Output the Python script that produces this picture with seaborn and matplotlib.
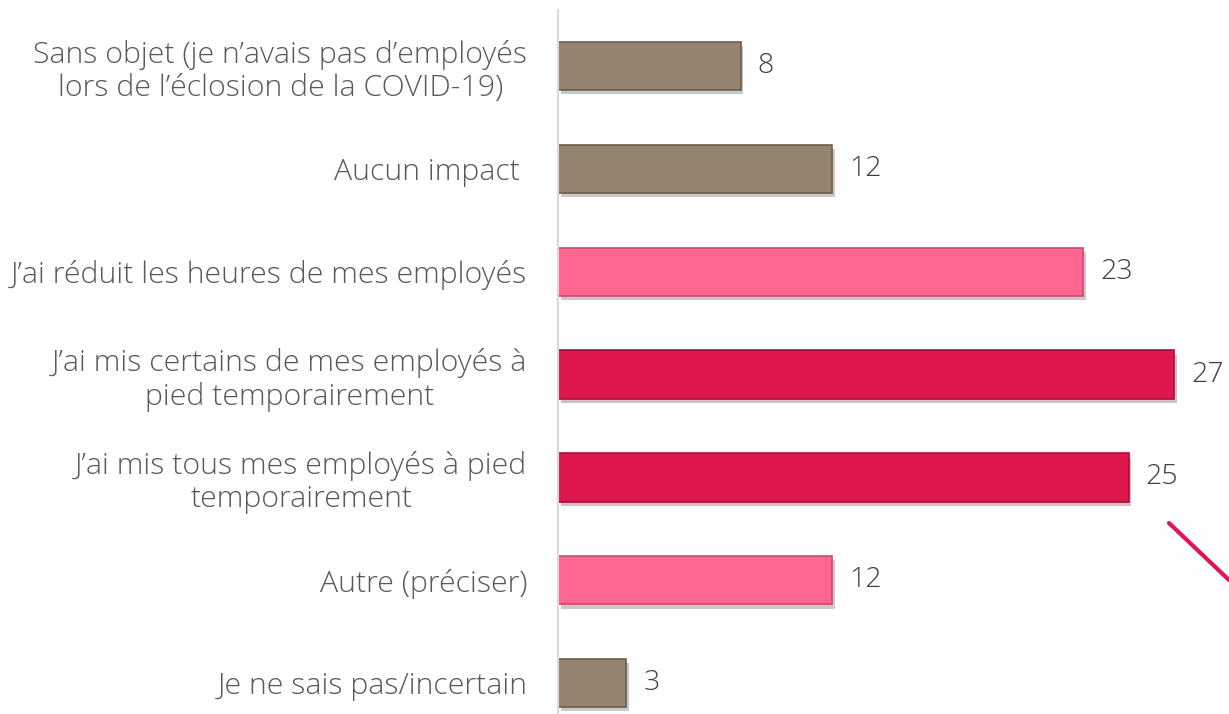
import matplotlib
matplotlib.use("Agg")
import matplotlib.pyplot as plt
import matplotlib.patheffects as pe
import seaborn as sns
import pandas as pd

categories = [
    "Sans objet (je n\u2019avais pas d\u2019employés\nlors de l\u2019éclosion de la COVID-19)",
    "Aucun impact ",
    "J\u2019ai réduit les heures de mes employés",
    "J\u2019ai mis certains de mes employés à\npied temporairement",
    "J\u2019ai mis tous mes employés à pied\ntemporairement",
    "Autre (préciser)",
    "Je ne sais pas/incertain",
]
values = [8, 12, 23, 27, 25, 12, 3]
colors = ["#94836f", "#94836f", "#ff6691", "#e0174e", "#e0174e", "#ff6691", "#94836f"]
edge_colors = ["#6b5d4e", "#6b5d4e", "#c94a6e", "#a80f3a", "#a80f3a", "#c94a6e", "#6b5d4e"]

sns.set_theme(style="white")
plt.rcParams["font.family"] = ["Open Sans", "DejaVu Sans"]

df = pd.DataFrame({"cat": categories, "val": values})

fig = plt.figure(figsize=(12.29, 7.14), dpi=100)
ax = fig.add_axes([558 / 1229, 0.0, 1 - 558 / 1229, 1 - 10 / 714])

sns.barplot(data=df, y="cat", x="val", hue="cat", palette=colors, legend=False,
            orient="h", width=0.47, ax=ax, saturation=1)

for patch, ec in zip(ax.patches, edge_colors):
    patch.set_edgecolor(ec)
    patch.set_linewidth(1.2)
    patch.set_path_effects([pe.SimplePatchShadow(offset=(2, -3), alpha=0.25), pe.Normal()])

for i, v in enumerate(values):
    ax.text(v + 0.75, i, str(v), va="center", ha="left", fontsize=20.5,
            color="#404040", fontweight="light")

ax.set_xlim(0, 29.4)
ax.set_ylim(6.30, -0.545)
ax.set_xlabel("")
ax.set_ylabel("")
ax.set_xticks([])
ax.tick_params(axis="y", length=0, pad=22, labelsize=21.8, labelcolor="#595959")
for lab in ax.get_yticklabels():
    lab.set_horizontalalignment("right")
    lab.set_multialignment("center")
    lab.set_fontweight("light")
    lab.set_linespacing(1.15)

for s in ["top", "right", "bottom"]:
    ax.spines[s].set_visible(False)
ax.spines["left"].set_color("#d9d9d9")
ax.spines["left"].set_linewidth(1.5)

# decorative line at bottom right
fig.add_artist(plt.Line2D([1169 / 1229, 1.0], [1 - 523 / 714, 1 - 580 / 714],
                          color="#e0174e", linewidth=3, transform=fig.transFigure))

fig.savefig("out.png", dpi=100)
